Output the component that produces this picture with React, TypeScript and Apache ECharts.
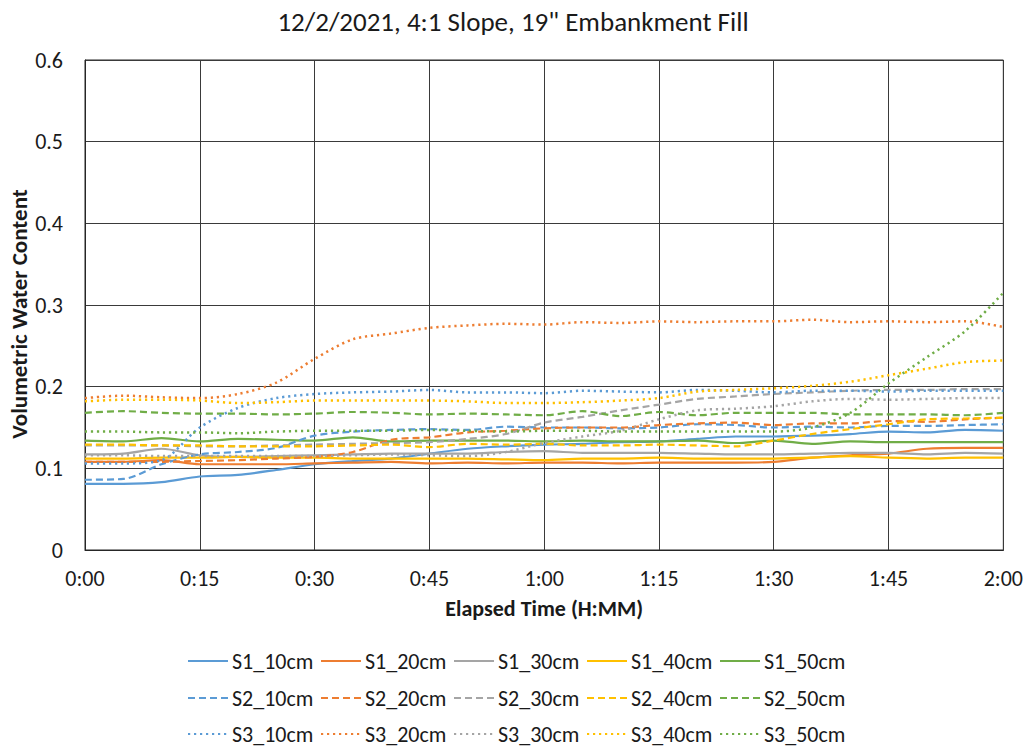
import React, { useEffect, useRef } from "react";
import * as echarts from "echarts";

const title = '12/2/2021, 4:1 Slope, 19" Embankment Fill';
const xTitle = "Elapsed Time (H:MM)";
const yTitle = "Volumetric Water Content";

// elapsed minutes
const minutes = [0, 5, 10, 15, 20, 25, 30, 35, 40, 45, 50, 55, 60, 65, 70, 75, 80, 85, 90, 95, 100, 105, 110, 115, 120];

const S1_10cm = [0.081, 0.081, 0.083, 0.090, 0.092, 0.098, 0.105, 0.109, 0.112, 0.118, 0.124, 0.127, 0.129, 0.130, 0.132, 0.133, 0.136, 0.139, 0.139, 0.140, 0.142, 0.145, 0.144, 0.147, 0.146];
const S1_20cm = [0.108, 0.108, 0.110, 0.105, 0.105, 0.105, 0.106, 0.107, 0.108, 0.106, 0.107, 0.106, 0.107, 0.107, 0.106, 0.107, 0.107, 0.107, 0.108, 0.113, 0.116, 0.118, 0.124, 0.125, 0.125];
const S1_30cm = [0.117, 0.118, 0.124, 0.116, 0.114, 0.115, 0.116, 0.117, 0.118, 0.118, 0.118, 0.120, 0.121, 0.119, 0.119, 0.119, 0.118, 0.117, 0.117, 0.118, 0.119, 0.119, 0.117, 0.119, 0.118];
const S1_40cm = [0.112, 0.112, 0.113, 0.113, 0.114, 0.113, 0.113, 0.112, 0.112, 0.112, 0.112, 0.111, 0.110, 0.112, 0.112, 0.113, 0.112, 0.112, 0.112, 0.113, 0.115, 0.113, 0.112, 0.113, 0.113];
const S1_50cm = [0.134, 0.133, 0.137, 0.133, 0.136, 0.135, 0.134, 0.138, 0.133, 0.134, 0.134, 0.134, 0.133, 0.134, 0.133, 0.133, 0.134, 0.131, 0.134, 0.130, 0.133, 0.132, 0.132, 0.132, 0.132];
const S2_10cm = [0.086, 0.087, 0.105, 0.117, 0.120, 0.125, 0.140, 0.145, 0.147, 0.148, 0.147, 0.151, 0.150, 0.150, 0.149, 0.150, 0.154, 0.153, 0.150, 0.151, 0.150, 0.152, 0.152, 0.153, 0.154];
const S2_20cm = [0.108, 0.108, 0.108, 0.109, 0.110, 0.112, 0.114, 0.120, 0.135, 0.138, 0.144, 0.146, 0.149, 0.150, 0.150, 0.153, 0.155, 0.156, 0.153, 0.155, 0.155, 0.158, 0.157, 0.160, 0.162];
const S2_30cm = [0.128, 0.128, 0.128, 0.127, 0.127, 0.128, 0.129, 0.130, 0.131, 0.132, 0.136, 0.142, 0.156, 0.163, 0.171, 0.178, 0.185, 0.188, 0.191, 0.193, 0.195, 0.196, 0.196, 0.197, 0.197];
const S2_40cm = [0.129, 0.129, 0.128, 0.128, 0.127, 0.127, 0.127, 0.128, 0.129, 0.126, 0.130, 0.129, 0.130, 0.128, 0.128, 0.129, 0.128, 0.127, 0.134, 0.142, 0.148, 0.154, 0.160, 0.161, 0.162];
const S2_50cm = [0.168, 0.170, 0.168, 0.167, 0.167, 0.166, 0.167, 0.169, 0.168, 0.166, 0.167, 0.166, 0.165, 0.170, 0.164, 0.169, 0.165, 0.168, 0.168, 0.168, 0.166, 0.166, 0.166, 0.165, 0.168];
const S3_10cm = [0.106, 0.106, 0.110, 0.150, 0.174, 0.186, 0.191, 0.193, 0.194, 0.196, 0.193, 0.193, 0.192, 0.195, 0.194, 0.193, 0.196, 0.195, 0.193, 0.195, 0.195, 0.194, 0.195, 0.195, 0.195];
const S3_20cm = [0.186, 0.189, 0.187, 0.186, 0.191, 0.205, 0.234, 0.258, 0.265, 0.272, 0.275, 0.277, 0.276, 0.279, 0.278, 0.280, 0.279, 0.280, 0.280, 0.282, 0.279, 0.280, 0.279, 0.280, 0.273];
const S3_30cm = [0.116, 0.116, 0.115, 0.115, 0.115, 0.115, 0.115, 0.116, 0.117, 0.116, 0.115, 0.120, 0.131, 0.139, 0.146, 0.160, 0.171, 0.173, 0.176, 0.182, 0.185, 0.184, 0.185, 0.186, 0.186];
const S3_40cm = [0.182, 0.184, 0.184, 0.183, 0.180, 0.181, 0.183, 0.183, 0.183, 0.183, 0.182, 0.180, 0.180, 0.181, 0.183, 0.186, 0.194, 0.196, 0.198, 0.201, 0.206, 0.214, 0.222, 0.230, 0.232];
const S3_50cm = [0.145, 0.145, 0.144, 0.144, 0.143, 0.145, 0.146, 0.146, 0.146, 0.147, 0.146, 0.145, 0.146, 0.146, 0.145, 0.145, 0.145, 0.145, 0.145, 0.150, 0.168, 0.204, 0.236, 0.268, 0.315];

const seriesNames = [
  "S1_10cm", "S1_20cm", "S1_30cm", "S1_40cm", "S1_50cm",
  "S2_10cm", "S2_20cm", "S2_30cm", "S2_40cm", "S2_50cm",
  "S3_10cm", "S3_20cm", "S3_30cm", "S3_40cm", "S3_50cm",
];
const seriesValues = [
  S1_10cm, S1_20cm, S1_30cm, S1_40cm, S1_50cm,
  S2_10cm, S2_20cm, S2_30cm, S2_40cm, S2_50cm,
  S3_10cm, S3_20cm, S3_30cm, S3_40cm, S3_50cm,
];

const palette = ["#5B9BD5", "#ED7D31", "#A5A5A5", "#FFC000", "#70AD47"];
const FONT = "Carlito, Lato, sans-serif";
const TXT = "#1a1a1a";

function fmtTime(m: number) {
  const h = Math.floor(m / 60);
  const mm = Math.round(m % 60);
  return `${h}:${String(mm).padStart(2, "0")}`;
}

export default function App() {
  const ref = useRef<HTMLDivElement>(null);
  useEffect(() => {
    if (!ref.current) return;
    const chart = echarts.init(ref.current, undefined, { renderer: "svg" });
    const lineTypes: any[] = ["solid", [7, 4], [2.2, 3.8]];
    const series = seriesNames.map((name, i) => {
      const row = Math.floor(i / 5);
      return {
        name,
        type: "line",
        data: minutes.map((t, k) => [t, seriesValues[i][k]]),
        showSymbol: false,
        symbol: "none",
        smooth: 0.3,
        lineStyle: {
          color: palette[i % 5],
          width: row === 2 ? 2.5 : 2.2,
          type: lineTypes[row],
          cap: "butt",
        },
        itemStyle: { color: palette[i % 5] },
      };
    });
    const colX = [187, 320, 453, 586, 719];
    const rowY = [650, 687, 723];
    const legends = seriesNames.map((name, i) => ({
      data: [name],
      left: colX[i % 5],
      top: rowY[Math.floor(i / 5)],
      orient: "horizontal",
      padding: 0,
      itemWidth: 40,
      itemHeight: 14,
      itemGap: 4,
      itemStyle: { opacity: 0 },
      textStyle: { fontFamily: FONT, fontSize: 22, color: TXT, padding: [0, 0, 0, -1] },
    }));
    chart.setOption({
      animation: false,
      backgroundColor: "#ffffff",
      title: {
        text: title,
        left: "center",
        top: 3,
        textStyle: { fontFamily: FONT, fontSize: 27, fontWeight: "normal", color: TXT },
      },
      legend: legends,
      graphic: [
        {
          type: "text",
          x: 19,
          y: 314,
          rotation: Math.PI / 2,
          style: {
            text: yTitle,
            fontFamily: FONT,
            fontSize: 23,
            fontWeight: "bold",
            fill: TXT,
            align: "center",
            verticalAlign: "middle",
          },
        },
      ],
      grid: { left: 85, right: 22, top: 60, bottom: 197, show: true, borderColor: "#262626", borderWidth: 1 },
      xAxis: {
        type: "value",
        min: 0,
        max: 120,
        interval: 15,
        name: xTitle,
        nameLocation: "middle",
        nameGap: 47,
        nameTextStyle: { fontFamily: FONT, fontSize: 22, fontWeight: "bold", color: TXT },
        axisLine: { show: true, lineStyle: { color: "#262626", width: 1 } },
        axisTick: { show: false },
        axisLabel: { formatter: (v: number) => fmtTime(v), fontFamily: FONT, fontSize: 22, color: TXT, margin: 17 },
        splitLine: { show: true, lineStyle: { color: "#3a3a3a", width: 1 } },
      },
      yAxis: {
        type: "value",
        min: 0,
        max: 0.6,
        interval: 0.1,
        axisLine: { show: true, lineStyle: { color: "#262626", width: 1 } },
        axisTick: { show: false },
        axisLabel: { formatter: (v: number) => (v === 0 ? "0" : String(Math.round(v * 10) / 10)), fontFamily: FONT, fontSize: 22, color: TXT, margin: 22 },
        splitLine: { show: true, lineStyle: { color: "#3a3a3a", width: 1 } },
      },
      series,
    });
    return () => chart.dispose();
  }, []);
  return (
    <div
      ref={ref}
      style={{ position: "fixed", left: 0, top: 0, width: 1026, height: 747, background: "#fff" }}
    />
  );
}
